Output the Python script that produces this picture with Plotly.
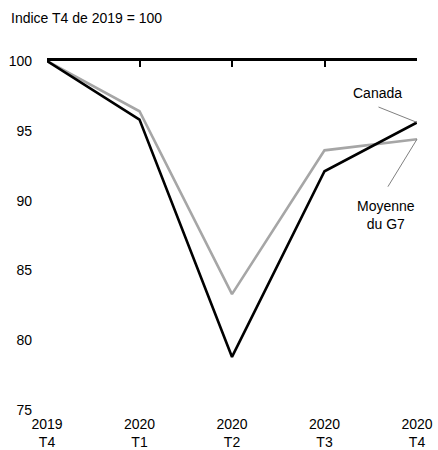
import plotly.graph_objects as go

categories = ["2019<br>T4", "2020<br>T1", "2020<br>T2", "2020<br>T3", "2020<br>T4"]
canada = [100, 95.8, 78.8, 92.1, 95.6]
g7 = [100, 96.4, 83.3, 93.6, 94.4]
y_ticks = [75, 80, 85, 90, 95, 100]

FONT = "Liberation Sans, Arial, sans-serif"
xs = list(range(len(categories)))

fig = go.Figure()
fig.add_trace(go.Scatter(x=xs, y=g7, mode="lines", line=dict(color="#A6A6A6", width=2.6),
                         name="Moyenne du G7", showlegend=False, hoverinfo="skip"))
fig.add_trace(go.Scatter(x=xs, y=canada, mode="lines", line=dict(color="#000000", width=2.6),
                         name="Canada", showlegend=False, hoverinfo="skip"))
# invisible trace so the top axis (line at 100 with ticks) is drawn
fig.add_trace(go.Scatter(x=xs, y=[100] * len(xs), xaxis="x2", mode="lines",
                         line=dict(color="rgba(0,0,0,0)"), showlegend=False, hoverinfo="skip"))

fig.update_layout(
    width=438, height=450,
    margin=dict(l=47, r=21, t=61, b=40),
    paper_bgcolor="white", plot_bgcolor="white",
    font=dict(family=FONT, size=14, color="#000000"),
    title=dict(text="Indice T4 de 2019 = 100", x=11 / 438, xanchor="left",
               xref="container", y=1 - 18 / 450, yanchor="middle", yref="container",
               font=dict(family=FONT, size=14, color="#000000")),
    xaxis=dict(range=[0, 4], tickvals=xs, ticktext=categories, showgrid=False,
               zeroline=False, showline=False, ticks="", tickfont=dict(size=14),
               automargin=False, ticklabelstandoff=4),
    xaxis2=dict(range=[0, 4], overlaying="x", side="top", anchor="y", tickvals=xs,
                showticklabels=False, showgrid=False, zeroline=False, showline=True,
                linecolor="#000000", linewidth=2.5, ticks="inside", ticklen=6,
                tickwidth=2, tickcolor="#000000", automargin=False),
    yaxis=dict(range=[75, 100], tickvals=y_ticks, showgrid=False, zeroline=False,
               showline=False, ticks="", ticklabelstandoff=14, tickfont=dict(size=14),
               automargin=False),
    annotations=[
        dict(text="Canada", x=3.57, y=97.7, xref="x", yref="y", showarrow=False,
             font=dict(size=14)),
        dict(text="Moyenne<br>du G7", x=3.66, y=89.0, xref="x", yref="y", showarrow=False,
             font=dict(size=14), align="center"),
        dict(text="", x=xs[4], y=canada[4], xref="x", yref="y", showarrow=True,
             arrowhead=0, arrowwidth=1, arrowcolor="#808080", ax=-40, ay=-16,
             standoff=0, startstandoff=0),
        dict(text="", x=xs[4], y=g7[4], xref="x", yref="y", showarrow=True,
             arrowhead=0, arrowwidth=1, arrowcolor="#808080", ax=-30, ay=49,
             standoff=0, startstandoff=0),
    ],
)

fig.write_html("out.html")
